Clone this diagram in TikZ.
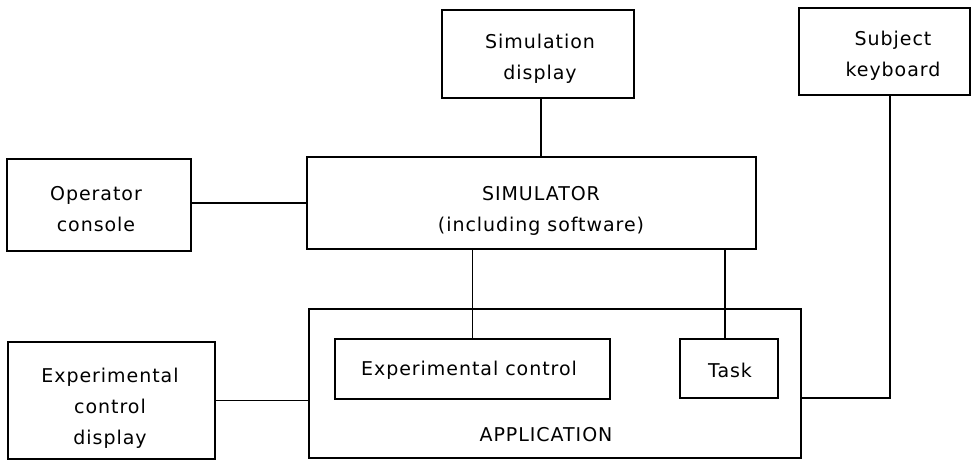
\documentclass[tikz,border=0pt]{standalone}
\usepackage{fontspec}
\setmainfont{DejaVu Sans}[LetterSpace=5]
\begin{document}
\begin{tikzpicture}[x=1pt,y=-1pt,
  box/.style={draw, line width=2.8pt, rectangle, inner sep=0pt, outer sep=0pt},
  wire/.style={line width=1.8pt},
  lbl/.style={align=center, inner sep=0pt, font=\fontsize{19}{31}\selectfont}]
\useasboundingbox (0,0) rectangle (973,462);
% boxes
\node[box, minimum width=192pt, minimum height=88pt] (simdisp) at (538,54) {};
\node[box, minimum width=171pt, minimum height=87pt] (subkbd) at (884.5,51.5) {};
\node[box, minimum width=184pt, minimum height=92pt] (opcon) at (99,205) {};
\node[box, minimum width=449pt, minimum height=92pt] (sim) at (531.5,203) {};
\node[box, minimum width=492pt, minimum height=149pt] (app) at (555,383.5) {};
\node[box, minimum width=275pt, minimum height=60pt] (expctl) at (472.5,369) {};
\node[box, minimum width=98pt, minimum height=59pt] (task) at (729,368.5) {};
\node[box, minimum width=207pt, minimum height=117pt] (ecd) at (111.5,400.5) {};
% texts
\node[lbl] (tsimdisp) at (540,59) {Simulation\\display};
\node[lbl] (tsubkbd) at (893,56) {Subject\\keyboard};
\node[lbl] (topcon) at (96,209) {Operator\\console};
\node[lbl] (tsim) at (541,211) {SIMULATOR\\(including software)};
\node[lbl] (tecd) at (110,408) {Experimental\\control\\display};
\node[lbl] (texpctl) at (469,370) {Experimental control};
\node[lbl] (ttask) at (730,370) {Task};
\node[lbl] (tapp) at (546,435) {APPLICATION};
% connectors
\draw[wire] ([xshift=3pt]simdisp.south) -- ([xshift=3pt]simdisp.south |- sim.north);
\draw[wire] (sim.west) -- (sim.west -| opcon.east);
\draw[wire] (expctl.north) -- (expctl.north |- sim.south);
\draw[wire] ([xshift=-4pt]task.north) -- ([xshift=-4pt]task.north |- sim.south);
\draw[wire] ([xshift=5.5pt]subkbd.south) |- ([yshift=-14.5pt]app.east);
\draw[wire] (ecd.east) -- (ecd.east -| app.west);
\end{tikzpicture}
\end{document}
